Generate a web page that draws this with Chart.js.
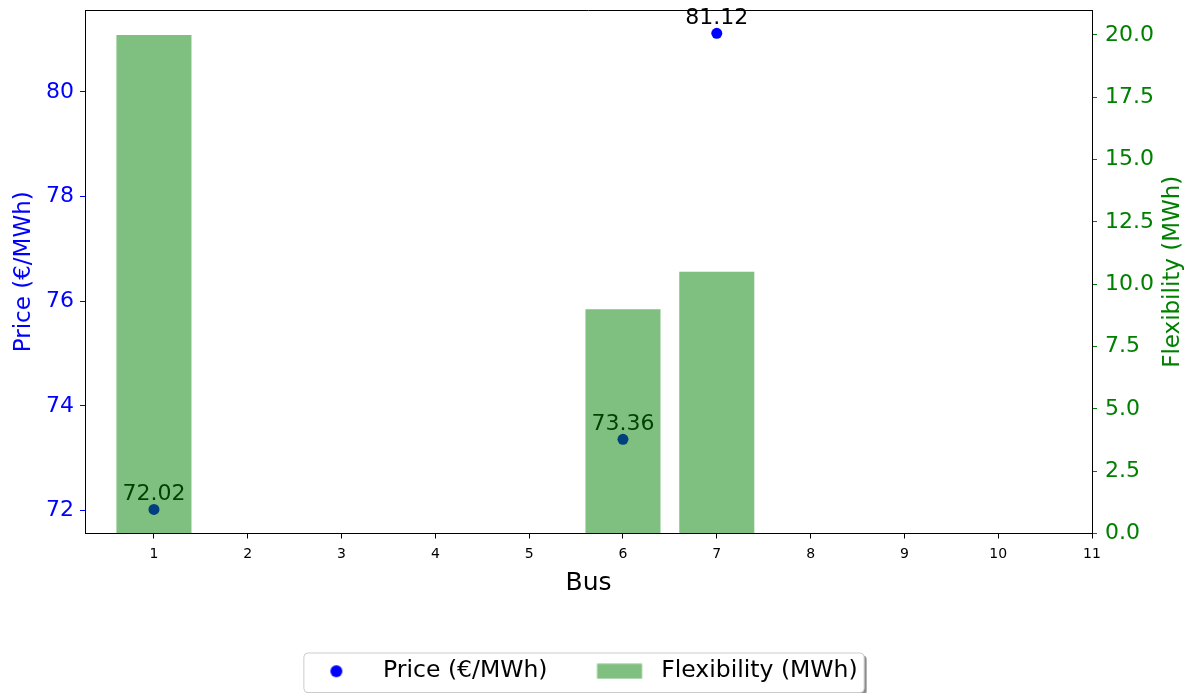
<!DOCTYPE html>
<html>
<head>
<meta charset="utf-8">
<title>Price and Flexibility by Bus</title>
<script src="https://cdn.jsdelivr.net/npm/chart.js@4.4.1/dist/chart.umd.min.js"></script>
<style>
  body { margin: 0; background: #fff; }
  #wrap { width: 1195px; height: 693px; }
</style>
</head>
<body>
<div id="wrap"><canvas id="busChart" width="1195" height="693"></canvas></div>
<script>
// Bus data (price only known at buses 1, 6 and 7)
const buses = [1, 2, 3, 4, 5, 6, 7, 8, 9, 10];
const prices = [72.02, null, null, null, null, 73.36, 81.12, null, null, null];
const flexibility = [20.0, 0, 0, 0, 0, 9.0, 10.5, 0, 0, 0];

// Tick labels
const xTicks = [1, 2, 3, 4, 5, 6, 7, 8, 9, 10, 11];
const priceTicks = [72, 74, 76, 78, 80];
const flexTicks = [0, 2.5, 5, 7.5, 10, 12.5, 15, 17.5, 20];

const FONT = 'DejaVu Sans';
const BLUE = '#0000ff';
const GREEN = '#008000';
const BAR_FILL = 'rgba(0, 128, 0, 0.5)';

// legend handles drawn on small canvases
function legendHandle(kind) {
    const c = document.createElement('canvas');
    c.width = 60;
    c.height = 16;
    const g = c.getContext('2d');
    if (kind === 'dot') {
        g.fillStyle = BLUE;
        g.beginPath();
        g.arc(25, 8, 6, 0, Math.PI * 2);
        g.fill();
    } else {
        g.fillStyle = BAR_FILL;
        g.fillRect(7.5, 0.5, 45, 15);
    }
    return c;
}

const pricePoints = buses
    .map((b, i) => ({ x: b, y: prices[i] }))
    .filter(p => p.y !== null);
const flexBars = buses.map((b, i) => ({ x: b, y: flexibility[i] }));

// value labels above the price dots, drawn before the bars
const pointLabels = {
    id: 'pointLabels',
    afterDatasetDraw(chart, args) {
        if (args.index !== 0) return;
        const ctx = chart.ctx;
        ctx.save();
        ctx.font = '22px "' + FONT + '"';
        ctx.fillStyle = '#000';
        ctx.textAlign = 'center';
        ctx.textBaseline = 'alphabetic';
        args.meta.data.forEach((el, i) => {
            ctx.fillText(pricePoints[i].y.toFixed(2), el.x, el.y - 9);
        });
        ctx.restore();
    }
};

// top spine, right axis title and the legend frame
const frame = {
    id: 'frame',
    beforeDraw(chart) {
        const hb = chart.legend.legendHitBoxes;
        if (!hb || !hb.length) return;
        const ctx = chart.ctx;
        const x0 = hb[0].left - 8;
        const x1 = hb[hb.length - 1].left + hb[hb.length - 1].width + 6;
        const y0 = hb[0].top - 7;
        const y1 = hb[0].top + hb[0].height + 9;
        ctx.save();
        ctx.fillStyle = 'rgba(0,0,0,0.45)';
        ctx.beginPath();
        ctx.roundRect(x0 + 3, y0 + 3, x1 - x0, y1 - y0, 4);
        ctx.fill();
        ctx.fillStyle = '#fff';
        ctx.strokeStyle = '#cccccc';
        ctx.lineWidth = 1;
        ctx.beginPath();
        ctx.roundRect(x0 + 0.5, y0 + 0.5, x1 - x0, y1 - y0, 4);
        ctx.fill();
        ctx.stroke();
        ctx.restore();
    },
    afterDraw(chart) {
        const a = chart.chartArea;
        const ctx = chart.ctx;
        ctx.save();
        ctx.strokeStyle = '#000';
        ctx.lineWidth = 1;
        ctx.beginPath();
        ctx.moveTo(a.left, a.top + 0.5);
        ctx.lineTo(a.right, a.top + 0.5);
        ctx.stroke();
        ctx.translate(1173, (a.top + a.bottom) / 2);
        ctx.rotate(-Math.PI / 2);
        ctx.font = '23px "' + FONT + '"';
        ctx.fillStyle = GREEN;
        ctx.textAlign = 'center';
        ctx.textBaseline = 'middle';
        ctx.fillText('Flexibility (MWh)', 0, 0);
        ctx.restore();
    }
};

function noPad(s) {
    s.paddingTop = 0;
    s.paddingBottom = 0;
    s.paddingLeft = 0;
    s.paddingRight = 0;
}

const ctx = document.getElementById('busChart').getContext('2d');
new Chart(ctx, {
    type: 'bar',
    data: {
        datasets: [{
            type: 'scatter',
            label: 'Price (€/MWh)',
            data: pricePoints,
            yAxisID: 'y',
            backgroundColor: BLUE,
            borderWidth: 0,
            pointRadius: 5.5,
            order: 1
        }, {
            type: 'bar',
            label: 'Flexibility (MWh)',
            data: flexBars,
            yAxisID: 'y1',
            backgroundColor: BAR_FILL,
            borderWidth: 0,
            barPercentage: 0.8,
            categoryPercentage: 1.0,
            order: 0
        }]
    },
    options: {
        responsive: false,
        animation: false,
        devicePixelRatio: 1,
        layout: { padding: { top: 10, left: 0, right: 26, bottom: 0 } },
        plugins: {
            tooltip: { enabled: false },
            legend: {
                position: 'bottom',
                labels: {
                    usePointStyle: true,
                    pointStyleWidth: 60,
                    padding: 42,
                    color: '#000',
                    font: { family: FONT, size: 23.5 },
                    generateLabels: () => [
                        { text: 'Price (€/MWh)', pointStyle: legendHandle('dot'), fillStyle: BLUE, lineWidth: 0, datasetIndex: 0 },
                        { text: 'Flexibility (MWh)', pointStyle: legendHandle('bar'), fillStyle: BAR_FILL, lineWidth: 0, datasetIndex: 1 }
                    ]
                }
            }
        },
        scales: {
            x: {
                type: 'linear',
                min: 0.265,
                max: 11,
                offset: false,
                afterFit: s => { s.height = 84; noPad(s); },
                afterBuildTicks: s => { s.ticks = xTicks.map(v => ({ value: v })); },
                grid: { drawOnChartArea: false, drawTicks: true, tickLength: 5, color: '#000', offset: false },
                border: { display: true, color: '#000', width: 1 },
                ticks: { color: '#000', font: { family: FONT, size: 14 }, padding: 7, maxRotation: 0, autoSkip: false },
                title: { display: true, text: 'Bus', color: '#000', font: { family: FONT, size: 25 }, padding: { top: 0, bottom: 19 } }
            },
            y: {
                position: 'left',
                min: 71.561,
                max: 81.566,
                afterFit: s => { s.width = 85; noPad(s); },
                afterBuildTicks: s => { s.ticks = priceTicks.map(v => ({ value: v })); },
                grid: { drawOnChartArea: false, drawTicks: true, tickLength: 5, color: BLUE },
                border: { display: true, color: '#000', width: 1 },
                ticks: { color: BLUE, font: { family: FONT, size: 22 }, padding: 6 },
                title: { display: true, text: 'Price (€/MWh)', color: BLUE, font: { family: FONT, size: 23 }, padding: { top: 10, bottom: 0 } }
            },
            y1: {
                position: 'right',
                min: 0,
                max: 21.0,
                afterFit: s => { s.width = 77; noPad(s); },
                afterBuildTicks: s => { s.ticks = flexTicks.map(v => ({ value: v })); },
                grid: { drawOnChartArea: false, drawTicks: true, tickLength: 5, color: GREEN },
                border: { display: true, color: '#000', width: 1 },
                ticks: { color: GREEN, font: { family: FONT, size: 22 }, padding: 8, callback: v => Number(v).toFixed(1) }
            }
        }
    },
    plugins: [pointLabels, frame]
});
</script>
</body>
</html>
